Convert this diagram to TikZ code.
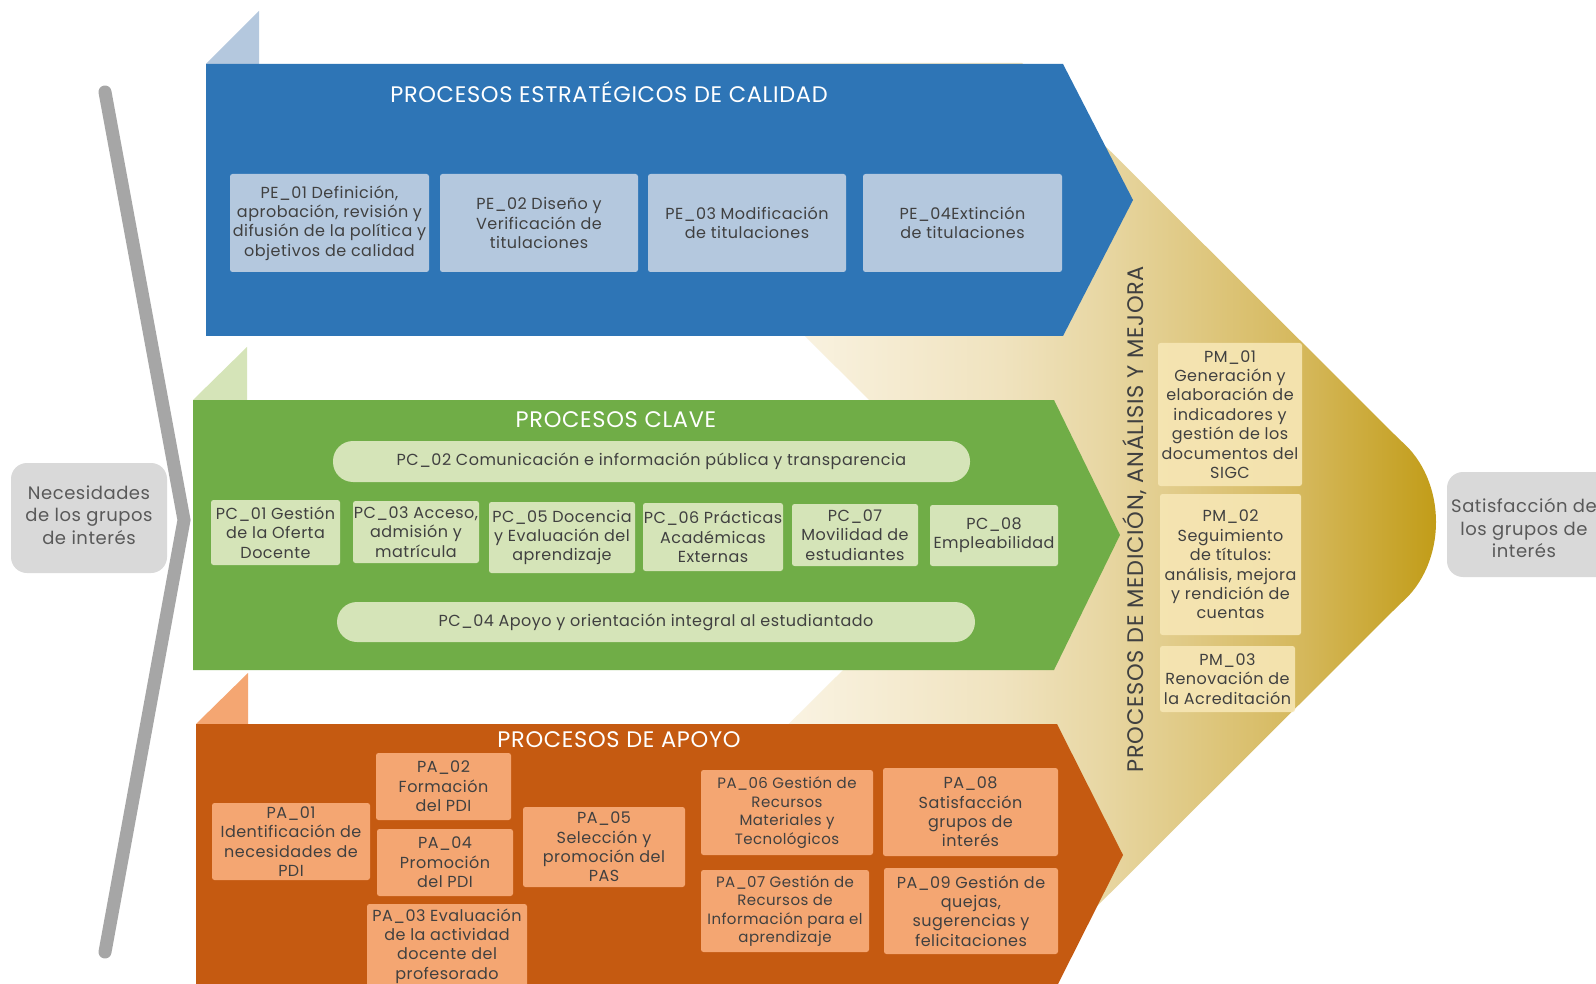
\documentclass[tikz,border=0pt]{standalone}
\usepackage{fontspec}
\setmainfont{Poppins}[LetterSpace=3]
\definecolor{blueband}{HTML}{2E75B6}
\definecolor{bluelight}{HTML}{B4C8DE}
\definecolor{greenband}{HTML}{70AD47}
\definecolor{greenlight}{HTML}{D5E4B8}
\definecolor{orangeband}{HTML}{C55A11}
\definecolor{orangelight}{HTML}{F4A672}
\definecolor{pmfill}{HTML}{F6E6B4}
\definecolor{graybar}{HTML}{A6A6A6}
\definecolor{graybox}{HTML}{D9D9D9}
\definecolor{txt}{HTML}{404040}
\definecolor{graytxt}{HTML}{595959}
\definecolor{g0}{HTML}{FFFFFF}
\definecolor{g1}{HTML}{F9F2E0}
\definecolor{g2}{HTML}{F0E3BF}
\definecolor{g3}{HTML}{E8D7A4}
\definecolor{g4}{HTML}{D5B85C}
\definecolor{g5}{HTML}{C09A12}
\pgfdeclarehorizontalshading{goldshade}{100bp}{color(0bp)=(g0); color(25bp)=(g0); color(39.7bp)=(g1); color(50.6bp)=(g2); color(56bp)=(g3); color(67bp)=(g4); color(75bp)=(g5); color(100bp)=(g5)}
\tikzset{
  boxbase/.style={rectangle, rounded corners=2.5pt, inner sep=0pt, align=center, text=txt,
    font=\fontsize{16}{19.4}\selectfont},
  pebox/.style={boxbase, fill=bluelight},
  pcbox/.style={boxbase, fill=greenlight},
  pabox/.style={boxbase, fill=orangelight},
  pmbox/.style={boxbase, fill=pmfill, fill opacity=0.92, text opacity=1},
  pill/.style={boxbase, fill=greenlight, rounded corners=20pt},
  endbox/.style={rectangle, rounded corners=16pt, fill=graybox, inner sep=0pt},
  endtext/.style={text=graytxt, align=center, font=\fontsize{18}{22.4}\selectfont, inner sep=0pt},
  bandtitle/.style={text=white, font=\fontsize{22.5}{26}\selectfont},
  grayline/.style={draw=graybar, line width=13pt, line cap=round, line join=miter}
}
\begin{document}
\begin{tikzpicture}[x=1pt,y=-1pt]
\useasboundingbox (0,0) rectangle (1596,984);
\fill[white] (0,0) rectangle (1596,984);
% gold chevron background
\shade[shading=goldshade]
  (530,63) -- (1022,63) -- (1400,440) .. controls (1448,480) and (1448,564) .. (1400,604)
  -- (1022,981) -- (530,981) -- (992,522) -- cycle;
% left gray bar
\draw[grayline] (105,92) -- (184,520) -- (105,952);
% light triangles
\fill[bluelight] (206,64) -- (259,11) -- (259,64) -- cycle;
\fill[greenlight] (193,400) -- (247,347) -- (247,400) -- cycle;
\fill[orangelight] (196,724) -- (248,673) -- (248,724) -- cycle;
% bands
\fill[blueband] (206,64) -- (1063,64) -- (1133,200) -- (1063,336) -- (206,336) -- cycle;
\fill[greenband] (193,400) -- (1054,400) -- (1120,535) -- (1054,670) -- (193,670) -- cycle;
\fill[orangeband] (196,724) -- (1057,724) -- (1123,855) -- (1057,986) -- (196,986) -- cycle;
% titles
\node[bandtitle] (t1) at (609,92) {PROCESOS ESTRATÉGICOS DE CALIDAD};
\node[bandtitle] (t2) at (616,420) {PROCESOS CLAVE};
\node[bandtitle] (t3) at (619,740) {PROCESOS DE APOYO};
\node[rotate=90, text=txt, font=\fontsize{22.5}{26}\selectfont] (t4) at (1135,519) {PROCESOS DE MEDICIÓN, ANÁLISIS Y MEJORA};
% PE boxes
\node[pebox, minimum width=199pt, minimum height=98pt] (pe1) at (329.5,223) {PE\_01 Definición,\\aprobación, revisión y\\difusión de la política y\\objetivos de calidad};
\node[pebox, minimum width=198pt, minimum height=98pt] (pe2) at (539,223) {PE\_02 Diseño y\\Verificación de\\titulaciones};
\node[pebox, minimum width=198pt, minimum height=98pt] (pe3) at (747,223) {PE\_03 Modificación\\de titulaciones};
\node[pebox, minimum width=199pt, minimum height=98pt] (pe4) at (962.5,223) {PE\_04Extinción\\de titulaciones};
% PC pills
\node[pill, minimum width=637pt, minimum height=41pt] (pc2) at (651.5,461.5) {PC\_02 Comunicación e información pública y transparencia};
\node[pill, minimum width=638pt, minimum height=40pt] (pc4) at (656,622) {PC\_04 Apoyo y orientación integral al estudiantado};
% PC boxes
\node[pcbox, minimum width=129pt, minimum height=65pt] (pc1) at (275.5,532.5) {PC\_01 Gestión\\de la Oferta\\Docente};
\node[pcbox, minimum width=126pt, minimum height=62pt] (pc3) at (416,532) {PC\_03 Acceso,\\admisión y\\matrícula};
\node[pcbox, minimum width=146pt, minimum height=71pt] (pc5) at (562,537.5) {PC\_05 Docencia\\y Evaluación del\\aprendizaje};
\node[pcbox, minimum width=140pt, minimum height=68pt] (pc6) at (713,537) {PC\_06 Prácticas\\Académicas\\Externas};
\node[pcbox, minimum width=126pt, minimum height=62pt] (pc7) at (855,535) {PC\_07\\Movilidad de\\estudiantes};
\node[pcbox, minimum width=128pt, minimum height=61pt] (pc8) at (994,535.5) {PC\_08\\Empleabilidad};
% PA boxes
\node[pabox, minimum width=158pt, minimum height=77pt] (pa1) at (291,841.5) {PA\_01\\Identificación de\\necesidades de\\PDI};
\node[pabox, minimum width=135pt, minimum height=67pt] (pa2) at (443.5,786.5) {PA\_02\\Formación\\del PDI};
\node[pabox, minimum width=136pt, minimum height=67pt] (pa4) at (445,862.5) {PA\_04\\Promoción\\del PDI};
\node[pabox, minimum width=162pt, minimum height=80pt] (pa5) at (604,847) {PA\_05\\Selección y\\promoción del\\PAS};
\node[pabox, minimum width=160pt, minimum height=84pt] (pa3) at (447,946) {PA\_03 Evaluación\\de la actividad\\docente del\\profesorado};
\node[pabox, minimum width=172pt, minimum height=85pt, font=\fontsize{15}{18.6}\selectfont] (pa6) at (787,812.5) {PA\_06 Gestión de\\Recursos\\Materiales y\\Tecnológicos};
\node[pabox, minimum width=168pt, minimum height=82pt, font=\fontsize{15}{18.2}\selectfont] (pa7) at (785,911) {PA\_07 Gestión de\\Recursos de\\Información para el\\aprendizaje};
\node[pabox, minimum width=175pt, minimum height=88pt] (pa8) at (970.5,812) {PA\_08\\Satisfacción\\grupos de\\interés};
\node[pabox, minimum width=174pt, minimum height=86pt] (pa9) at (971,911) {PA\_09 Gestión de\\quejas,\\sugerencias y\\felicitaciones};
% PM boxes
\node[pmbox, minimum width=144pt, minimum height=143pt] (pm1) at (1230,414.5) {PM\_01\\Generación y\\elaboración de\\indicadores y\\gestión de los\\documentos del\\SIGC};
\node[pmbox, minimum width=141pt, minimum height=141pt] (pm2) at (1230.5,564.5) {PM\_02\\Seguimiento\\de títulos:\\análisis, mejora\\y rendición de\\cuentas};
\node[pmbox, minimum width=135pt, minimum height=66pt] (pm3) at (1227.5,679) {PM\_03\\Renovación de\\la Acreditación};
% end boxes
\node[endbox, minimum width=156pt, minimum height=110pt] (need) at (89,518) {};
\node[endtext] (needtxt) at (89,515) {Necesidades\\de los grupos\\de interés};
\node[endbox, minimum width=190pt, minimum height=105pt] (sat) at (1542,524.5) {};
\node[endtext] (sattxt) at (1524,528) {Satisfacción de\\los grupos de\\interés};
\end{tikzpicture}
\end{document}
